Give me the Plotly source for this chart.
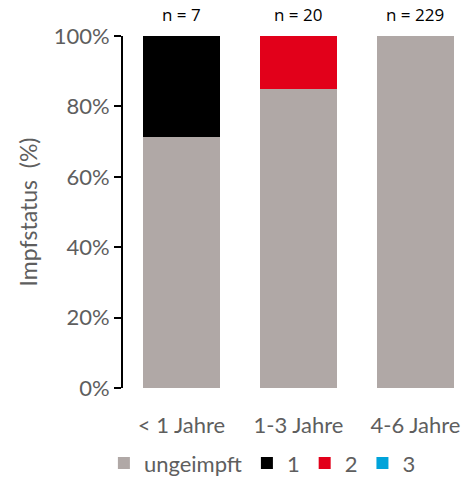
import plotly.graph_objects as go

# Age groups and vaccination-status counts per group
age_groups = ["< 1 Jahre", "1-3 Jahre", "4-6 Jahre"]
n_total = [7, 20, 229]
count_ungeimpft = [5, 17, 229]
count_dose1 = [2, 0, 0]
count_dose2 = [0, 3, 0]
count_dose3 = [0, 0, 0]

series_names = ["ungeimpft", "1", "2", "3"]
series_colors = ["#B0A8A6", "#000000", "#E2001A", "#00A3DA"]
y_ticks = [0, 20, 40, 60, 80, 100]

def to_pct(counts):
    return [c / n * 100 for c, n in zip(counts, n_total)]

fig = go.Figure()
for name, counts, color in zip(series_names,
                               [count_ungeimpft, count_dose1, count_dose2, count_dose3],
                               series_colors):
    fig.add_trace(go.Bar(
        x=age_groups, y=to_pct(counts), name=name,
        marker=dict(color=color, line=dict(width=0)),
        width=0.66,
    ))

for g, n in zip(age_groups, n_total):
    fig.add_annotation(
        x=g, y=100, yref="y", yshift=8, yanchor="bottom",
        text=f"n = {n}", showarrow=False,
        font=dict(family="Open Sans, sans-serif", size=17, color="#000000"),
    )

grey = "#5E5E5E"
fig.update_layout(
    width=468, height=480,
    margin=dict(l=123, r=0, t=36, b=92, autoexpand=False),
    barmode="stack",
    plot_bgcolor="white", paper_bgcolor="white",
    font=dict(family="Lato, sans-serif", size=22, color=grey),
    xaxis=dict(
        range=[-0.5, 2.449], showline=False, ticks="", showgrid=False,
        tickfont=dict(size=22, color=grey), ticklabelstandoff=22,
        automargin=False,
    ),
    yaxis=dict(
        range=[0, 100], tickvals=y_ticks,
        ticktext=[f"{v}%" for v in y_ticks],
        showline=True, linecolor="#000000", linewidth=2,
        ticks="outside", ticklen=7, tickwidth=2, tickcolor="#000000",
        showgrid=False, zeroline=False, automargin=False,
        title=dict(text="Impfstatus  (%)", font=dict(size=23, color=grey), standoff=10),
        tickfont=dict(size=22, color=grey),
    ),
    legend=dict(
        orientation="h", x=0.222, xanchor="left", xref="container",
        y=0.035, yanchor="middle", yref="container",
        font=dict(size=22, color=grey), itemwidth=30, traceorder="normal",
    ),
    bargap=0,
)

fig.write_html("out.html")
